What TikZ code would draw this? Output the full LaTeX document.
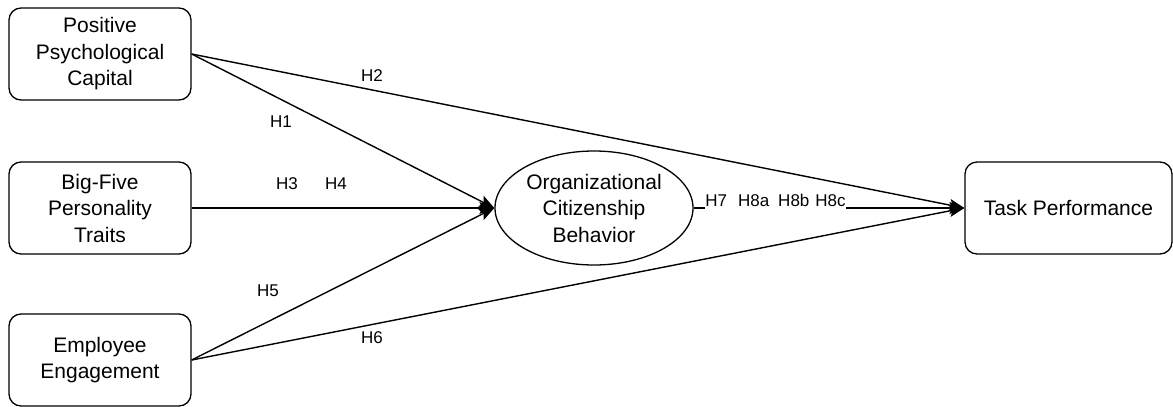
\documentclass[tikz,border=0pt]{standalone}
\usepackage{fontspec}
\setmainfont{Liberation Sans}
\usetikzlibrary{arrows.meta,shapes.geometric}
\begin{document}
\begin{tikzpicture}[x=1pt,y=-1pt,
  box/.style={draw,line width=1.3pt,rounded corners=12pt,minimum width=182pt,minimum height=92pt,inner sep=0pt,align=center,font=\fontsize{21}{26.5}\selectfont},
  oval/.style={draw,ellipse,line width=1.3pt,minimum width=198pt,minimum height=114pt,inner sep=0pt,align=center,font=\fontsize{21}{26.5}\selectfont},
  arr/.style={line width=1.4pt,-{Stealth[length=15pt,width=12pt,inset=3pt]}},
  hl/.style={fill=white,inner sep=1pt,font=\fontsize{17}{19}\selectfont}]
\useasboundingbox (0,0) rectangle (1173,407);
\node[box] (ppc) at (100,54) {Positive\\Psychological\\Capital};
\node[box] (big) at (100,208) {Big-Five\\Personality\\Traits};
\node[box] (emp) at (100,360) {Employee\\Engagement};
\node[oval] (ocb) at (594,208) {Organizational\\Citizenship\\Behavior};
\node[box,minimum width=207pt] (task) at (1068.5,208) {Task Performance};
\draw[arr] (ppc.east) -- (ocb.west);
\draw[arr] (ppc.east) -- (task.west);
\draw[arr] (big.east) -- (ocb.west);
\draw[arr] (emp.east) -- (ocb.west);
\draw[arr] (emp.east) -- (task.west);
\draw[arr] (ocb.east) -- (task.west);
\node[hl] (h1) at (281,122) {H1};
\node[hl] (h2) at (372,76) {H2};
\node[hl] (h3) at (287,184) {H3};
\node[hl] (h4) at (336,184) {H4};
\node[hl] (h5) at (268,291) {H5};
\node[hl] (h6) at (372,338) {H6};
\node[hl,anchor=base,inner xsep=0pt,inner ysep=2pt,text height=13pt,text depth=2pt] (h78) at (775.5,206) {H7\hspace{11pt}H8a\hspace{9pt}H8b\hspace{6pt}H8c};
\end{tikzpicture}
\end{document}
